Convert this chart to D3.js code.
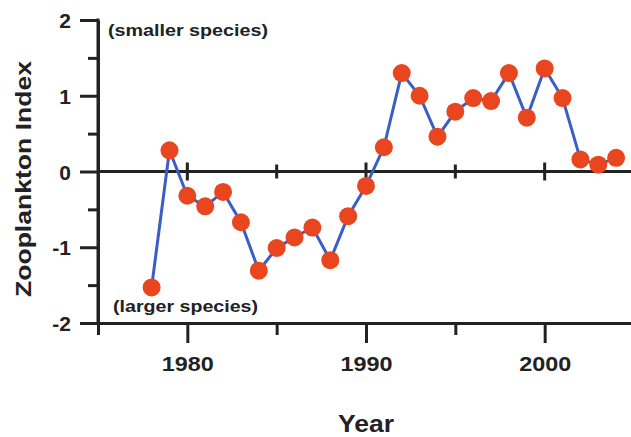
<!DOCTYPE html>
<html lang="en">
<head>
    <meta charset="UTF-8">
    <title>Zooplankton Index</title>
    <script src="https://d3js.org/d3.v7.min.js"></script>
    <style>
        body { margin: 0; background: #fff; }
        text {
            font-family: "Liberation Sans", Arial, sans-serif;
            font-weight: bold;
            fill: #222;
        }
        .axis path, .axis line {
            stroke: #222;
            stroke-width: 3;
        }
        .series {
            fill: none;
            stroke: #3a5fc4;
            stroke-width: 3;
        }
        .dot {
            fill: #e9461f;
        }
    </style>
</head>
<body>
    <svg width="631" height="437"></svg>
    <script>
        // Data
        const years = [1978, 1979, 1980, 1981, 1982, 1983, 1984, 1985, 1986, 1987, 1988, 1989, 1990,
                       1991, 1992, 1993, 1994, 1995, 1996, 1997, 1998, 1999, 2000, 2001, 2002, 2003, 2004];
        const index = [-1.53, 0.28, -0.32, -0.46, -0.27, -0.67, -1.31, -1.01, -0.87, -0.74, -1.17, -0.59, -0.19,
                       0.32, 1.30, 1.00, 0.46, 0.79, 0.97, 0.93, 1.30, 0.71, 1.36, 0.97, 0.16, 0.09, 0.18];

        const yMajor = [-2, -1, 0, 1, 2];
        const yMinor = [-1.5, -0.5, 0.5, 1.5];
        const xMajor = [1980, 1990, 2000];
        const xMinor = [1975, 1985, 1995, 2005];

        const svg = d3.select("svg");

        const x = d3.scaleLinear().domain([1975, 2005]).range([98, 634]);
        const y = d3.scaleLinear().domain([-2, 2]).range([323, 20]);

        // Left axis: minor ticks then major ticks with labels (plain hyphen for minus)
        svg.append("g")
           .attr("class", "axis")
           .attr("transform", `translate(${x(1975)},0)`)
           .call(d3.axisLeft(y).tickValues(yMinor).tickSize(10).tickSizeOuter(0).tickFormat(""));

        const yAx = svg.append("g")
           .attr("class", "axis")
           .attr("transform", `translate(${x(1975)},0)`)
           .call(d3.axisLeft(y).tickValues(yMajor).tickSize(18).tickSizeOuter(0).tickPadding(9)
                 .tickFormat(d => String(d)));
        yAx.selectAll("text").style("font-size", "21px").attr("dy", "0.36em");
        yAx.select(".domain").attr("d", `M0,${y(-2) + 1.5}V${y(2) - 1.5}`);

        // Bottom axis
        svg.append("g")
           .attr("class", "axis")
           .attr("transform", `translate(0,${y(-2)})`)
           .call(d3.axisBottom(x).tickValues(xMinor).tickSize(12).tickSizeOuter(0).tickFormat(""));

        const xAx = svg.append("g")
           .attr("class", "axis")
           .attr("transform", `translate(0,${y(-2)})`)
           .call(d3.axisBottom(x).tickValues(xMajor).tickSize(20).tickSizeOuter(0).tickPadding(13)
                 .tickFormat(d => String(d)));
        xAx.selectAll("text").style("font-size", "21px").attr("textLength", 52)
           .attr("lengthAdjust", "spacingAndGlyphs");

        // Zero line with crossing ticks
        const zero = svg.append("g").attr("class", "axis");
        zero.append("line")
            .attr("x1", x(1975)).attr("x2", x(2005))
            .attr("y1", y(0)).attr("y2", y(0));
        zero.selectAll(".zmaj").data(xMajor).join("line")
            .attr("x1", d => x(d)).attr("x2", d => x(d))
            .attr("y1", y(0) - 9).attr("y2", y(0) + 9);
        zero.selectAll(".zmin").data(xMinor.slice(1, 3)).join("line")
            .attr("x1", d => x(d)).attr("x2", d => x(d))
            .attr("y1", y(0) - 7).attr("y2", y(0) + 7);

        // Series line and dots
        const pts = years.map((yr, i) => [yr, index[i]]);
        svg.append("path")
           .datum(pts)
           .attr("class", "series")
           .attr("d", d3.line().x(d => x(d[0])).y(d => y(d[1])));

        svg.selectAll(".dot").data(pts).join("circle")
           .attr("class", "dot")
           .attr("cx", d => x(d[0]))
           .attr("cy", d => y(d[1]))
           .attr("r", 9);

        // Annotations
        svg.append("text")
           .attr("x", 108).attr("y", 36)
           .attr("textLength", 160).attr("lengthAdjust", "spacingAndGlyphs")
           .style("font-size", "17px")
           .text("(smaller species)");

        svg.append("text")
           .attr("x", 113).attr("y", 312)
           .attr("textLength", 145).attr("lengthAdjust", "spacingAndGlyphs")
           .style("font-size", "17px")
           .text("(larger species)");

        // Axis titles
        svg.append("text")
           .attr("transform", `translate(31,179) rotate(-90)`)
           .attr("text-anchor", "middle")
           .attr("textLength", 236).attr("lengthAdjust", "spacingAndGlyphs")
           .style("font-size", "22px")
           .text("Zooplankton Index");

        svg.append("text")
           .attr("x", x(1990)).attr("y", 432)
           .attr("text-anchor", "middle")
           .attr("textLength", 56).attr("lengthAdjust", "spacingAndGlyphs")
           .style("font-size", "23px")
           .text("Year");
    </script>
</body>
</html>
